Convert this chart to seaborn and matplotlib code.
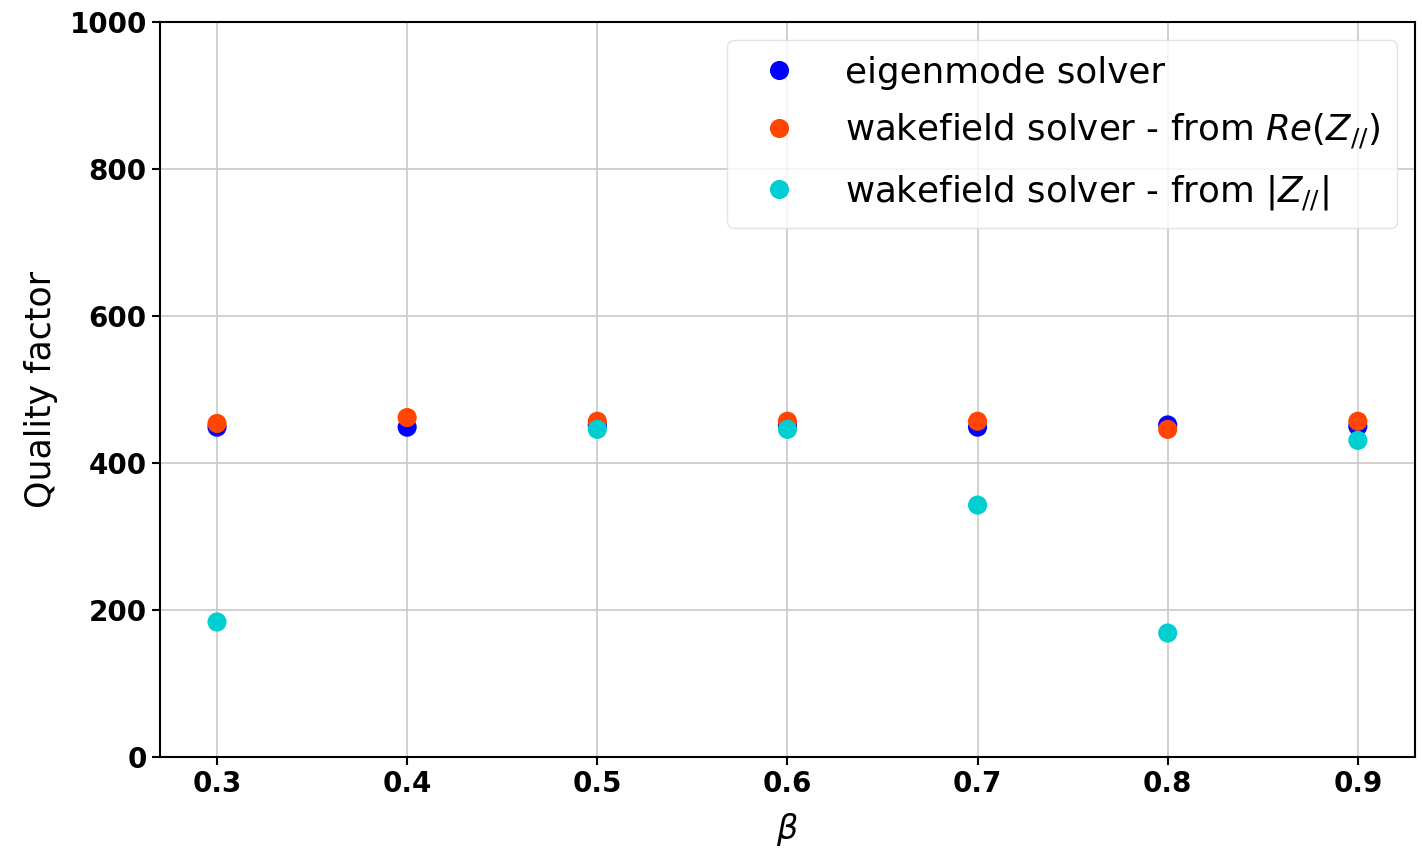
import numpy as np
import pandas as pd
import matplotlib
matplotlib.use("Agg")
import matplotlib.pyplot as plt
import seaborn as sns

beta = [0.3, 0.4, 0.5, 0.6, 0.7, 0.8, 0.9]
q_eigenmode = [449, 449, 452, 452, 449, 452, 450]
q_wake_re = [454, 462, 457, 457, 457, 446, 457]
q_wake_abs = [184, np.nan, 446, 446, 343, 169, 431]

labels = ["eigenmode solver",
          r"wakefield solver - from $Re(Z_{//})$",
          r"wakefield solver - from $|Z_{//}|$"]
colors = ["#0000ff", "#ff4500", "#00ced1"]

df = pd.DataFrame({
    "beta": beta * 3,
    "Q": q_eigenmode + q_wake_re + q_wake_abs,
    "method": [labels[0]] * 7 + [labels[1]] * 7 + [labels[2]] * 7,
}).dropna()

sns.set_theme(style="ticks")
plt.rcParams["font.family"] = ["DejaVu Sans"]
plt.rcParams["mathtext.fontset"] = "dejavusans"
plt.rcParams["text.color"] = "black"
plt.rcParams["axes.labelcolor"] = "black"
plt.rcParams["xtick.color"] = "black"
plt.rcParams["ytick.color"] = "black"

fig, ax = plt.subplots(figsize=(14.22, 8.48), dpi=100)
fig.subplots_adjust(left=0.1125, right=0.995, top=0.974, bottom=0.107)

sns.scatterplot(data=df, x="beta", y="Q", hue="method", palette=colors,
                hue_order=labels, s=190, linewidth=0, ax=ax, zorder=3)

ax.set_ylim(0, 1000)
ax.set_xlim(0.27, 0.93)
ax.set_xticks(beta)
ax.set_yticks([0, 200, 400, 600, 800, 1000])
ax.grid(True, color="#c8c8c8", linewidth=1.2)
ax.set_axisbelow(True)
for sp in ax.spines.values():
    sp.set_color("black")
    sp.set_linewidth(1.5)
ax.tick_params(axis="both", labelsize=20, length=6, width=1.5, color="black")
for t in ax.get_xticklabels() + ax.get_yticklabels():
    t.set_fontweight("bold")

ax.set_xlabel(r"$\beta$", fontsize=24, labelpad=9)
ax.set_ylabel("Quality factor", fontsize=25, labelpad=8)

leg = ax.legend(loc="upper right", fontsize=25.7, handletextpad=0.85,
                labelspacing=0.62, borderpad=0.45, markerscale=1.0,
                frameon=True, borderaxespad=0.5)
leg.get_frame().set_edgecolor("#dddddd")
for t in leg.get_texts():
    t.set_color("black")

fig.savefig("out.png", dpi=100)
